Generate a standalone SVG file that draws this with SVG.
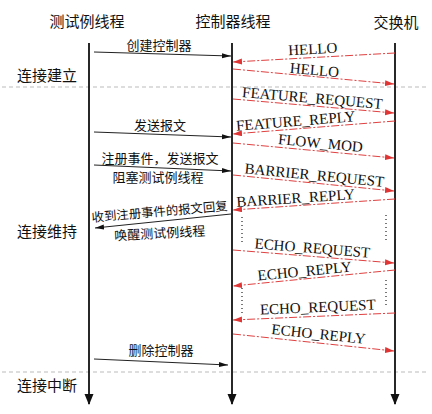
<svg xmlns="http://www.w3.org/2000/svg" width="432" height="414" viewBox="0 0 432 414">
<style>
text{font-family:"Liberation Serif","Noto Sans CJK SC",serif;fill:#111}
.h{font-size:15px;text-anchor:middle}
.m{font-size:13px;text-anchor:middle}
.e{font-size:15px;text-anchor:middle}
.life{stroke:#111;stroke-width:1.8;fill:none}
.sep{stroke:#aaa;stroke-width:0.8;stroke-dasharray:4 3}
.blk{stroke:#222;stroke-width:1;fill:none;marker-end:url(#ab)}
.red{stroke:#e04040;stroke-width:1;fill:none;stroke-dasharray:8 2 2 2;marker-end:url(#ar)}
.dot{stroke:#222;stroke-width:1.2;stroke-dasharray:1 3}
</style>
<defs>
<marker id="ab" markerUnits="userSpaceOnUse" markerWidth="10" markerHeight="6" refX="9" refY="2.5" orient="auto"><path d="M0,0 L9,2.5 L0,5 z" fill="#111"/></marker>
<marker id="ar" markerUnits="userSpaceOnUse" markerWidth="10" markerHeight="7" refX="9" refY="3" orient="auto"><path d="M0,0 L9,3 L0,6 z" fill="#e03535"/></marker>
<marker id="al" markerUnits="userSpaceOnUse" markerWidth="10" markerHeight="12" refX="5" refY="11" orient="auto-start-reverse"><path d="M0,0 L10,0 L5,11 z" fill="#111"/></marker>
</defs>
<g id="separators">
<line class="sep" x1="2" y1="87" x2="428" y2="87"/>
<line class="sep" x1="2" y1="372" x2="428" y2="372"/>
</g>
<g id="phase-labels">
<text class="h" x="47" y="81">连接建立</text>
<text class="h" x="47" y="237">连接维持</text>
<text class="h" x="47" y="391">连接中断</text>
</g>
<g id="test-thread">
<text class="h" x="87" y="27">测试例线程</text>
<line class="life" x1="89" y1="43" x2="89" y2="404"/>
<path d="M84.5,394 L93.5,394 L89,405 z" fill="#111"/>
</g>
<g id="controller-thread">
<text class="h" x="233" y="27">控制器线程</text>
<line class="life" x1="232" y1="43" x2="232" y2="404"/>
<path d="M227.5,394 L236.5,394 L232,405 z" fill="#111"/>
</g>
<g id="switch">
<text class="h" x="396" y="28">交换机</text>
<line class="life" x1="395" y1="43" x2="395" y2="404"/>
<path d="M390.5,394 L399.5,394 L395,405 z" fill="#111"/>
</g>
<g id="connectors">
<line class="blk" x1="94" y1="52" x2="231" y2="56"/>
<line class="red" x1="395" y1="53" x2="233" y2="62"/>
<line class="red" x1="233" y1="69" x2="394" y2="84"/>
<line class="red" x1="233" y1="99" x2="394" y2="113"/>
<line class="red" x1="395" y1="121" x2="233" y2="134"/>
<line class="blk" x1="94" y1="132" x2="231" y2="137"/>
<line class="red" x1="233" y1="143" x2="394" y2="158"/>
<line class="blk" x1="94" y1="165" x2="231" y2="171"/>
<line class="red" x1="233" y1="175" x2="394" y2="191"/>
<line class="red" x1="395" y1="199" x2="233" y2="210"/>
<line class="blk" x1="231" y1="214" x2="95" y2="228"/>
<line class="dot" x1="242" y1="217" x2="242" y2="243"/>
<line class="dot" x1="386" y1="215" x2="386" y2="241"/>
<line class="red" x1="233" y1="250" x2="394" y2="263"/>
<line class="red" x1="395" y1="270" x2="233" y2="286"/>
<line class="dot" x1="242" y1="288" x2="242" y2="316"/>
<line class="dot" x1="386" y1="280" x2="386" y2="307"/>
<line class="red" x1="395" y1="313" x2="233" y2="320"/>
<line class="red" x1="233" y1="334" x2="394" y2="351"/>
<line class="blk" x1="94" y1="359" x2="228" y2="365"/>
</g>
<g id="labels">
<text class="m" x="159" y="50">创建控制器</text>
<text class="m" x="160" y="130">发送报文</text>
<text class="m" x="160" y="163">注册事件，发送报文</text>
<text class="m" x="158" y="182">阻塞测试例线程</text>
<text class="m" x="160" y="216" style="font-size:12.4px" transform="rotate(-5 160 216)">收到注册事件的报文回复</text>
<text class="m" x="160" y="238" transform="rotate(-3 160 238)">唤醒测试例线程</text>
<text class="m" x="161" y="355">删除控制器</text>
<text class="e" x="313" y="54" transform="rotate(-3.2 313 54)">HELLO</text>
<text class="e" x="314" y="75" transform="rotate(5.3 314 75)">HELLO</text>
<text class="e" x="312" y="103" transform="rotate(4.9 312 103)">FEATURE_REQUEST</text>
<text class="e" x="296" y="126" transform="rotate(-4.6 296 126)">FEATURE_REPLY</text>
<text class="e" x="320" y="148" transform="rotate(5.3 320 148)">FLOW_MOD</text>
<text class="e" x="314" y="180" transform="rotate(5.6 314 180)">BARRIER_REQUEST</text>
<text class="e" x="296" y="203" transform="rotate(-3.9 296 203)">BARRIER_REPLY</text>
<text class="e" x="312" y="253" transform="rotate(4.6 312 253)">ECHO_REQUEST</text>
<text class="e" x="305" y="276" transform="rotate(-5.6 305 276)">ECHO_REPLY</text>
<text class="e" x="318" y="312" transform="rotate(-2.5 318 312)">ECHO_REQUEST</text>
<text class="e" x="318" y="339" transform="rotate(6 318 339)">ECHO_REPLY</text>
</g>
</svg>
